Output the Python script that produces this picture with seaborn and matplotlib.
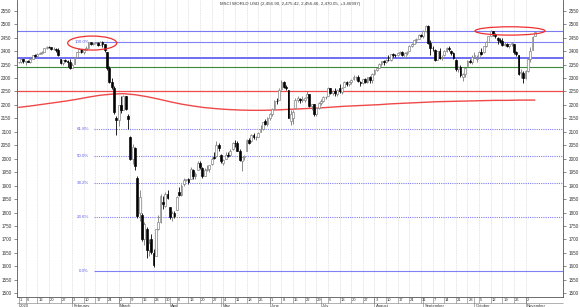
import numpy as np
import pandas as pd
import matplotlib
matplotlib.use("Agg")
import matplotlib.pyplot as plt
import seaborn as sns
from matplotlib.patches import Ellipse

# ---------------- data ----------------
dates = pd.bdate_range("2020-01-01", "2020-11-06")

opens = [2358, 2358, 2370, 2360, 2363, 2361, 2371, 2385, 2382, 2391, 2393, 2397, 2410, 2416, 2414, 2407, 2409, 2404, 2372, 2355, 2366, 2365, 2361,
         2338, 2352, 2378, 2396, 2408, 2396, 2404, 2413, 2433, 2428, 2431, 2432, 2424, 2434, 2426, 2398, 2336, 2284, 2262, 2150,
         2145, 2198, 2182, 2234, 2160, 2080, 2000, 2040, 1930, 1800, 1790, 1703, 1740, 1662, 1700, 1650, 1640, 1738, 1765, 1840, 1825, 1870,
         1820, 1782, 1800, 1810, 1875, 1865, 1905, 1922, 1924, 1925, 1960, 1935, 1960, 1985, 1965, 1935, 1960, 1962, 1980, 2005, 2010, 2050,
         2015, 1985, 2000, 2015, 2015, 2035, 2060, 2060, 2030, 1990, 2005, 2030, 2070, 2065, 2090, 2080, 2082, 2100, 2112, 2140, 2130,
         2152, 2165, 2185, 2215, 2220, 2258, 2285, 2266, 2255, 2140, 2150, 2190, 2218, 2222, 2220, 2218, 2228, 2240, 2195, 2202, 2168, 2188,
         2208, 2214, 2228, 2235, 2262, 2245, 2252, 2242, 2262, 2248, 2268, 2285, 2276, 2284, 2295, 2302, 2304, 2285, 2280, 2295, 2285, 2302, 2292,
         2314, 2330, 2338, 2352, 2362, 2360, 2368, 2366, 2388, 2386, 2385, 2393, 2396, 2380, 2392, 2400, 2420, 2428, 2440, 2446, 2460,
         2458, 2475, 2495, 2430, 2412, 2405, 2368, 2400, 2376, 2385, 2402, 2410, 2400, 2392, 2368, 2332, 2340, 2305, 2315, 2345, 2365, 2360,
         2380, 2370, 2378, 2398, 2395, 2418, 2435, 2458, 2474, 2463, 2448, 2440, 2438, 2424, 2428, 2418, 2425, 2425, 2396, 2385, 2318, 2320,
         2300, 2325, 2370, 2405, 2456.90]
highs = [2360, 2372, 2371, 2365, 2368, 2374, 2387, 2390, 2392, 2396, 2399, 2411, 2418, 2418, 2415, 2415, 2410, 2412, 2372, 2368, 2372, 2366, 2372,
         2356, 2378, 2398, 2410, 2409, 2405, 2418, 2434, 2435, 2434, 2435, 2433, 2437, 2436, 2427, 2398, 2345, 2300, 2270, 2160,
         2200, 2235, 2236, 2235, 2165, 2085, 2055, 2042, 1935, 1885, 1800, 1765, 1745, 1700, 1720, 1665, 1740, 1790, 1870, 1860, 1875, 1885,
         1822, 1805, 1805, 1860, 1895, 1905, 1930, 1926, 1930, 1968, 1962, 1950, 1990, 1990, 1968, 1965, 1975, 1978, 2005, 2025, 2066, 2060,
         2018, 1998, 2025, 2025, 2035, 2062, 2068, 2065, 2035, 2008, 2015, 2075, 2078, 2092, 2095, 2085, 2098, 2125, 2138, 2148, 2155,
         2170, 2188, 2218, 2225, 2262, 2292, 2288, 2275, 2256, 2180, 2180, 2225, 2232, 2226, 2235, 2230, 2252, 2242, 2205, 2205, 2190, 2212,
         2222, 2235, 2235, 2265, 2264, 2256, 2262, 2260, 2278, 2265, 2290, 2288, 2288, 2295, 2310, 2308, 2310, 2290, 2298, 2300, 2305, 2306, 2318,
         2335, 2342, 2355, 2365, 2366, 2372, 2385, 2390, 2394, 2390, 2398, 2400, 2402, 2395, 2400, 2422, 2430, 2442, 2450, 2462, 2465,
         2478, 2498, 2496, 2440, 2418, 2408, 2402, 2412, 2385, 2405, 2415, 2420, 2405, 2398, 2370, 2345, 2348, 2320, 2340, 2368, 2370, 2385,
         2395, 2385, 2400, 2410, 2420, 2438, 2458, 2478, 2476, 2468, 2452, 2450, 2448, 2434, 2432, 2428, 2434, 2428, 2400, 2386, 2335, 2325,
         2330, 2375, 2415, 2455, 2475.42]
lows = [2356, 2356, 2355, 2350, 2358, 2355, 2371, 2380, 2380, 2388, 2390, 2396, 2408, 2411, 2403, 2405, 2396, 2382, 2352, 2350, 2361, 2342, 2335,
        2336, 2352, 2377, 2395, 2394, 2390, 2403, 2413, 2422, 2424, 2428, 2418, 2424, 2415, 2398, 2330, 2280, 2258, 2168, 2088,
        2120, 2170, 2180, 2180, 2110, 1995, 1980, 1960, 1780, 1770, 1695, 1680, 1630, 1640, 1645, 1597, 1640, 1735, 1760, 1815, 1822, 1850,
        1775, 1770, 1778, 1808, 1860, 1860, 1900, 1918, 1905, 1924, 1925, 1925, 1958, 1962, 1928, 1934, 1955, 1950, 1978, 1998, 2008, 2030,
        1985, 1975, 1998, 2005, 2012, 2033, 2045, 2028, 1990, 1955, 1995, 2028, 2055, 2063, 2075, 2070, 2080, 2098, 2105, 2125, 2122,
        2145, 2160, 2184, 2205, 2218, 2255, 2262, 2255, 2150, 2125, 2128, 2188, 2212, 2208, 2212, 2210, 2226, 2192, 2180, 2160, 2160, 2185,
        2200, 2212, 2222, 2232, 2240, 2238, 2235, 2235, 2245, 2240, 2266, 2270, 2272, 2278, 2292, 2294, 2285, 2270, 2278, 2282, 2283, 2282, 2280,
        2312, 2325, 2336, 2345, 2348, 2355, 2362, 2365, 2380, 2378, 2383, 2388, 2382, 2375, 2385, 2399, 2415, 2425, 2432, 2444, 2452,
        2450, 2470, 2428, 2385, 2400, 2362, 2366, 2372, 2368, 2383, 2398, 2402, 2385, 2372, 2325, 2322, 2305, 2288, 2305, 2343, 2355, 2352,
        2375, 2360, 2376, 2385, 2393, 2416, 2434, 2455, 2458, 2450, 2425, 2430, 2420, 2418, 2415, 2410, 2420, 2390, 2382, 2310, 2300, 2283,
        2295, 2322, 2360, 2403, 2456.46]
closes = [2358, 2370, 2362, 2363, 2361, 2371, 2385, 2382, 2391, 2393, 2397, 2410, 2416, 2414, 2407, 2409, 2404, 2386, 2355, 2366, 2365, 2361, 2338,
          2350, 2377, 2396, 2408, 2398, 2404, 2413, 2433, 2428, 2431, 2432, 2424, 2434, 2426, 2405, 2336, 2284, 2268, 2172, 2145,
          2198, 2182, 2234, 2186, 2148, 2000, 2042, 1972, 1788, 1858, 1703, 1758, 1662, 1685, 1652, 1604, 1738, 1765, 1860, 1830, 1870, 1853,
          1782, 1800, 1788, 1858, 1865, 1900, 1922, 1924, 1915, 1962, 1935, 1945, 1985, 1968, 1935, 1960, 1962, 1975, 2000, 2003, 2050, 2040,
          1990, 1995, 2015, 2010, 2030, 2060, 2058, 2030, 1995, 2005, 2010, 2070, 2060, 2090, 2080, 2080, 2095, 2112, 2135, 2130, 2152,
          2165, 2185, 2215, 2213, 2255, 2285, 2266, 2262, 2152, 2165, 2175, 2218, 2225, 2218, 2220, 2226, 2240, 2195, 2202, 2168, 2188, 2208,
          2214, 2228, 2230, 2262, 2245, 2252, 2245, 2256, 2250, 2262, 2285, 2276, 2284, 2292, 2302, 2304, 2290, 2280, 2295, 2285, 2302, 2292, 2314,
          2330, 2338, 2352, 2362, 2360, 2368, 2366, 2388, 2386, 2385, 2393, 2396, 2386, 2392, 2398, 2420, 2428, 2440, 2446, 2460, 2458,
          2475, 2495, 2432, 2412, 2410, 2368, 2400, 2376, 2378, 2402, 2410, 2408, 2392, 2375, 2332, 2340, 2310, 2315, 2336, 2365, 2360, 2380,
          2385, 2375, 2398, 2390, 2418, 2435, 2455, 2474, 2463, 2455, 2440, 2438, 2424, 2428, 2420, 2425, 2430, 2396, 2390, 2315, 2322, 2300,
          2325, 2370, 2400, 2452, 2470.05]

# moving average (read weekly, every 5 bars)
ma_index = [0, 5, 10, 15, 20, 25, 30, 35, 40, 45, 50, 55, 60, 65, 70, 75, 80, 85, 90, 95, 100, 105, 110,
            115, 120, 125, 130, 135, 140, 145, 150, 155, 160, 165, 170, 175, 180, 185, 190, 195, 200,
            205, 210, 215, 220, 222]
ma_values = [2191, 2196, 2202, 2208, 2214, 2221, 2229, 2236, 2240, 2242, 2238, 2231, 2222, 2212, 2203, 2196,
             2190, 2186, 2183, 2181, 2180, 2180, 2181, 2183, 2185, 2187, 2189, 2192, 2195, 2197, 2199, 2201,
             2204, 2206, 2208, 2210, 2212, 2213, 2214, 2215, 2216, 2217, 2217, 2218, 2218, 2218]

# horizontal levels
full_levels = [2475, 2375, 2340, 2250]
full_colors = ["#7a7af5", "#6262f0", "#3a8a3a", "#f04a4a"]
full_widths = [0.8, 1.3, 0.8, 0.9]
fib_labels = ["100.0%", "61.8%", "50.0%", "38.2%", "23.6%", "0.0%"]
fib_levels = [2435, 2109.5, 2009, 1908.5, 1784, 1583]
fib_start = 32.3

# highlight ellipses (center bar index, center value, width in bars, height in points)
ell_x = [31.6, 211.3]
ell_y = [2430, 2475]
ell_w = [21.1, 30.1]
ell_h = [52, 31]

yticks = list(range(1500, 2551, 50))
title = "MSCI WORLD USD (2,456.90, 2,475.42, 2,456.46, 2,470.05, +3.46997)"

# ---------------- plot ----------------
sns.set_theme(style="white")
plt.rcParams["font.family"] = ["Liberation Sans", "DejaVu Sans"]

df = pd.DataFrame({"date": dates, "open": opens, "high": highs, "low": lows, "close": closes})
df["i"] = np.arange(len(df))
ma_df = pd.DataFrame({"i": ma_index, "ma": ma_values})

fig = plt.figure(figsize=(5.8, 3.07), dpi=100)
ax = fig.add_axes([17 / 580, 9.7 / 307, 546 / 580, 297.3 / 307])
ax.set_xlim(-0.74, 234.1)
ax.set_ylim(1485, 2590)

# vertical weekly grid
mondays = df.index[df["date"].dt.weekday == 0].tolist()
for m in mondays:
    ax.axvline(m, color="#d4d4d4", lw=0.5, ls=(0, (1.2, 1.2)), zorder=0)

# horizontal lines
for lv, c, w in zip(full_levels, full_colors, full_widths):
    ax.axhline(lv, color=c, lw=w, zorder=1)
for lab, lv in zip(fib_labels, fib_levels):
    ls = "-" if lab in ("100.0%", "0.0%") else (0, (1, 1))
    ax.hlines(lv, fib_start, 234.1, colors="#8080f8", lw=0.8, linestyles=ls, zorder=1)
    ax.text(fib_start - 2.1, lv, lab, color="#5a5af0", fontsize=3.2, ha="right", va="center")

# moving average
sns.lineplot(data=ma_df, x="i", y="ma", ax=ax, color="#f04848", lw=1.0, zorder=2)

# candles
up = df["close"] >= df["open"]
for sel, body_c, edge_c in [(up, "white", "#7a7a7a"), (~up, "black", "black")]:
    d = df[sel]
    ax.vlines(d["i"], d["low"], d["high"], color=edge_c, lw=0.6, zorder=3)
    h = (d["close"] - d["open"]).abs().clip(lower=1.5)
    ax.bar(d["i"], h, bottom=d[["open", "close"]].min(axis=1), width=0.78,
           color=body_c, edgecolor=edge_c, linewidth=0.45, zorder=4)

# ellipses
for x, y, w, h in zip(ell_x, ell_y, ell_w, ell_h):
    ax.add_patch(Ellipse((x, y), w, h, fill=False, edgecolor="#f03030", lw=0.9, zorder=5))

ax.text(0.5, 0.987, title, transform=ax.transAxes, fontsize=3.2, color="#333333",
        ha="center", va="center")

# axes styling
ax.set_xlabel("")
ax.set_ylabel("")
ax.set_xticks([])
ax.set_yticks(yticks)
ax.set_yticklabels([str(v) for v in yticks])
ax.tick_params(axis="y", left=True, right=True, labelleft=True, labelright=True,
               length=2.5, width=0.4, pad=1.5, labelsize=3.3, colors="#333333")
for s in ["left", "right", "bottom"]:
    ax.spines[s].set_color("#555555")
    ax.spines[s].set_linewidth(0.6)
ax.spines["top"].set_visible(False)

# date row below the axis
tr = ax.get_xaxis_transform()
row_h = 6 / 297.3
mon_h = 10 / 297.3
ax.plot([-0.74, 234.1], [-row_h, -row_h], transform=tr, color="#777777", lw=0.4, clip_on=False)
for m in mondays:
    ax.plot([m, m], [0, -row_h], transform=tr, color="#777777", lw=0.4, clip_on=False)
    ax.text(m + 0.4, -row_h / 2, str(df.loc[m, "date"].day), transform=tr, fontsize=3,
            ha="left", va="center", color="#333333", clip_on=False)
month_starts = df.groupby(df["date"].dt.to_period("M"))["i"].min().tolist()
month_names = ["2020", "February", "March", "April", "May", "June", "July", "August",
               "September", "October", "November"]
for ms, name in zip(month_starts, month_names):
    ax.plot([ms, ms], [0, -mon_h], transform=tr, color="#777777", lw=0.4, clip_on=False)
    if ms not in mondays and ms == 0:
        ax.text(ms + 0.4, -row_h / 2, "1", transform=tr, fontsize=3, ha="left", va="center",
                color="#333333", clip_on=False)
    ax.text(ms + 0.5, -(row_h + mon_h) / 2 - 0.002, name, transform=tr, fontsize=3,
            ha="left", va="center", color="#333333", clip_on=False)

fig.savefig("out.png", dpi=100, facecolor="white")
